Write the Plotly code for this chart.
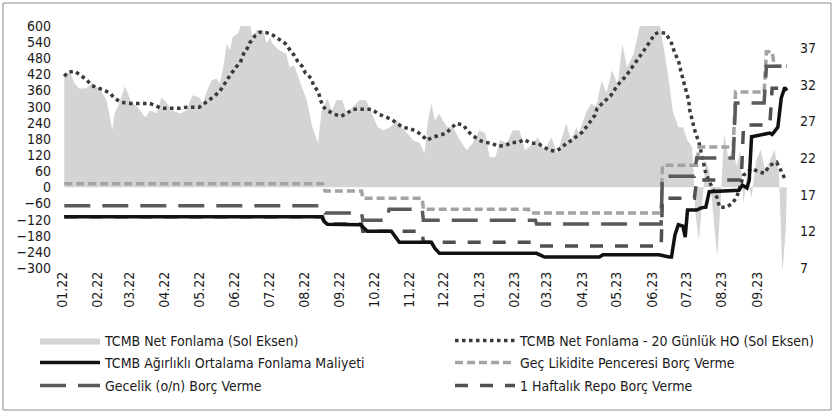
import plotly.graph_objects as go

# ---------------- DATA ----------------
net_dates = ["2022-01-03","2022-01-05","2022-01-09","2022-01-12","2022-01-16","2022-01-22","2022-01-27","2022-01-31",
 "2022-02-03","2022-02-09","2022-02-14","2022-02-16","2022-02-21","2022-02-25","2022-03-02","2022-03-08","2022-03-15",
 "2022-03-19","2022-03-25","2022-03-29","2022-04-03","2022-04-08","2022-04-14","2022-04-20","2022-04-25","2022-05-01",
 "2022-05-04","2022-05-08","2022-05-12","2022-05-16","2022-05-19","2022-05-22","2022-05-25","2022-05-28","2022-05-30",
 "2022-06-04","2022-06-07","2022-06-11","2022-06-14","2022-06-17","2022-06-20","2022-06-26","2022-06-29","2022-07-02",
 "2022-07-04","2022-07-10","2022-07-16","2022-07-19","2022-07-23","2022-07-28","2022-08-03","2022-08-08","2022-08-13",
 "2022-08-16","2022-08-21","2022-08-25","2022-08-29","2022-09-03","2022-09-07","2022-09-12","2022-09-18","2022-09-24",
 "2022-09-29","2022-10-04","2022-10-09","2022-10-15","2022-10-21","2022-10-25","2022-10-30","2022-11-04","2022-11-10",
 "2022-11-14","2022-11-17","2022-11-20","2022-11-23","2022-11-27","2022-11-30","2022-12-04","2022-12-09","2022-12-15",
 "2022-12-21","2022-12-26","2023-01-01","2023-01-06","2023-01-10","2023-01-15","2023-01-19","2023-01-25","2023-01-30",
 "2023-02-05","2023-02-10","2023-02-17","2023-02-21","2023-02-27","2023-03-05","2023-03-10","2023-03-18","2023-03-22",
 "2023-03-27","2023-03-29","2023-04-05","2023-04-09","2023-04-13","2023-04-18","2023-04-22","2023-04-27","2023-05-02",
 "2023-05-06","2023-05-10","2023-05-16","2023-05-21","2023-05-25","2023-06-07","2023-06-09","2023-06-12","2023-06-16",
 "2023-06-19","2023-06-24","2023-06-28","2023-07-02","2023-07-06","2023-07-09","2023-07-12","2023-07-15","2023-07-18",
 "2023-07-21","2023-07-25","2023-07-28","2023-07-31","2023-08-03","2023-08-07","2023-08-10","2023-08-14","2023-08-17",
 "2023-08-20","2023-08-23","2023-08-27","2023-08-31","2023-09-04","2023-09-08","2023-09-12","2023-09-16","2023-09-20",
 "2023-09-23","2023-09-26","2023-09-27"]
net_vals = [409,428,420,387,368,368,387,372,
 368,324,212,275,324,376,324,298,260,
 286,275,335,312,286,275,286,342,335,
 312,361,398,405,387,446,535,510,558,
 573,610,597,610,558,584,584,535,558,
 535,510,498,446,454,398,324,223,164,
 286,331,286,324,324,275,298,324,324,
 275,223,212,223,249,223,201,175,164,
 126,249,312,249,275,249,223,223,175,
 138,164,212,201,112,112,175,164,212,
 212,138,164,186,138,186,126,238,175,
 223,201,286,312,300,398,350,435,380,
 535,446,498,595,620,620,573,500,387,
 286,223,223,175,150,-100,-197,-50,100,
 60,-120,-260,-50,200,100,150,80,137,
 -60,50,-40,100,140,60,100,140,50,
 -320,-150,20]

ma_dates = ["2022-01-03","2022-01-06","2022-01-12","2022-01-16","2022-01-22","2022-01-27","2022-02-01","2022-02-07",
 "2022-02-12","2022-02-16","2022-02-22","2022-03-02","2022-03-19","2022-03-25","2022-03-29","2022-04-14","2022-04-20",
 "2022-05-01","2022-05-07","2022-05-13","2022-05-19","2022-05-24","2022-05-28","2022-06-02","2022-06-06","2022-06-09",
 "2022-06-12","2022-06-14","2022-06-19","2022-06-23","2022-06-29","2022-07-03","2022-07-09","2022-07-15","2022-07-19",
 "2022-07-23","2022-07-26","2022-07-30","2022-08-02","2022-08-07","2022-08-09","2022-08-13","2022-08-15","2022-08-17",
 "2022-08-21","2022-08-27","2022-09-02","2022-09-07","2022-09-12","2022-09-29","2022-10-05","2022-10-10","2022-10-16",
 "2022-10-21","2022-10-26","2022-11-01","2022-11-07","2022-11-12","2022-11-16","2022-11-21","2022-11-27","2022-12-03",
 "2022-12-08","2022-12-12","2022-12-18","2022-12-22","2022-12-27","2023-01-01","2023-01-06","2023-01-12","2023-01-17",
 "2023-01-24","2023-01-29","2023-02-04","2023-02-09","2023-02-15","2023-02-21","2023-02-26","2023-03-03","2023-03-09",
 "2023-03-15","2023-03-18","2023-03-23","2023-03-26","2023-04-01","2023-04-05","2023-04-08","2023-04-12","2023-04-14",
 "2023-04-17","2023-04-21","2023-04-26","2023-04-30","2023-05-04","2023-05-09","2023-05-13","2023-05-17","2023-05-22",
 "2023-05-27","2023-05-31","2023-06-03","2023-06-07","2023-06-13","2023-06-18","2023-06-21","2023-06-24","2023-06-26",
 "2023-06-29","2023-07-01","2023-07-03","2023-07-04","2023-07-06","2023-07-09","2023-07-12","2023-07-15","2023-07-18",
 "2023-07-23","2023-07-28","2023-07-30","2023-08-05","2023-08-10","2023-08-14","2023-08-20","2023-08-27","2023-09-01",
 "2023-09-07","2023-09-12","2023-09-18","2023-09-22","2023-09-25"]
ma_vals = [413,428,432,420,402,379,372,361,
 350,331,316,312,312,301,294,294,298,
 298,316,335,357,391,417,446,465,498,
 517,536,565,577,575,570,554,536,513,
 491,469,450,424,405,379,357,327,301,
 286,272,264,275,290,290,272,264,253,
 238,223,219,208,193,175,186,193,201,
 223,238,231,208,190,175,167,164,153,
 156,167,167,178,164,164,149,138,134,
 151,164,175,186,205,227,246,268,294,
 305,320,342,368,391,413,439,461,491,
 521,547,569,577,573,536,498,472,435,
 391,353,324,286,249,201,167,115,52,
 4,-41,-74,-74,-60,-37,45,70,60,
 52,82,93,60,33]

wac_dates = ["2022-01-03","2022-08-16","2022-08-18","2022-08-21","2022-09-19","2022-09-22","2022-09-25","2022-10-16",
 "2022-10-19","2022-10-23","2022-11-20","2022-11-23","2022-11-27","2023-02-20","2023-02-27","2023-04-16","2023-04-19",
 "2023-04-26","2023-06-07","2023-06-16","2023-06-18","2023-06-21","2023-06-24","2023-06-28","2023-06-30","2023-07-02",
 "2023-07-10","2023-07-14","2023-07-18","2023-07-21","2023-08-16","2023-08-19","2023-08-23","2023-08-25","2023-08-27",
 "2023-09-12","2023-09-14","2023-09-19","2023-09-22","2023-09-25","2023-09-27"]
wac_vals = [14.0,14.0,13.4,12.95,12.9,12.4,12.0,12.0,
 11.3,10.5,10.5,9.7,9.0,9.0,8.5,8.5,8.8,
 8.8,8.8,8.5,8.5,11.5,12.9,12.7,11.2,14.9,
 14.9,15.2,15.3,17.4,17.6,18.3,17.9,19.0,24.9,
 25.4,25.2,26.2,30.2,31.6,31.2]

llw_dates = ["2022-01-03","2022-08-17","2022-08-19","2022-09-20","2022-09-21","2022-11-12","2022-11-13","2023-02-13",
 "2023-02-14","2023-06-09","2023-06-10","2023-07-10","2023-07-12","2023-08-11","2023-08-13","2023-09-07","2023-09-09",
 "2023-09-14","2023-09-16","2023-09-27"]
llw_vals = [18.5,18.5,17.5,17.5,16.5,16.5,15.0,15.0,
 14.5,14.5,21.0,21.0,23.5,23.5,31.0,31.0,36.5,
 36.5,34.5,34.5]

on_dates = ["2022-01-03","2022-08-17","2022-08-19","2022-09-20","2022-09-21","2022-10-12","2022-10-14","2022-11-12",
 "2022-11-13","2023-02-19","2023-02-20","2023-06-09","2023-06-10","2023-07-08","2023-07-10","2023-08-11","2023-08-13",
 "2023-09-07","2023-09-09","2023-09-16","2023-09-27"]
on_vals = [15.5,15.5,14.5,14.5,13.5,13.5,15.0,15.0,
 13.5,13.5,13.0,13.0,19.5,19.5,22.0,22.0,29.5,
 29.5,34.5,34.5,34.5]

w1_dates = ["2022-01-03","2022-08-17","2022-08-19","2022-09-20","2022-09-21","2022-11-12","2022-11-13","2023-02-19",
 "2023-02-20","2023-06-09","2023-06-10","2023-07-08","2023-07-10","2023-08-18","2023-08-20","2023-09-12","2023-09-14",
 "2023-09-27"]
w1_vals = [14.0,14.0,13.0,13.0,12.0,12.0,10.5,10.5,
 10.0,10.0,16.5,16.5,19.0,19.0,26.5,26.5,31.5,
 31.5]

month_ticks = ["2022-01-01","2022-02-01","2022-03-01","2022-04-01","2022-05-01","2022-06-01","2022-07-01",
 "2022-08-01","2022-09-01","2022-10-01","2022-11-01","2022-12-01","2023-01-01","2023-02-01","2023-03-01",
 "2023-04-01","2023-05-01","2023-06-01","2023-07-01","2023-08-01","2023-09-01"]
month_labels = ["01.22","02.22","03.22","04.22","05.22","06.22","07.22","08.22","09.22","10.22","11.22","12.22",
 "01.23","02.23","03.23","04.23","05.23","06.23","07.23","08.23","09.23"]
left_ticks = list(range(-300, 601, 60))
right_ticks = [7, 12, 17, 22, 27, 32, 37]

names = ["TCMB Net Fonlama (Sol Eksen)",
         "TCMB Net Fonlama - 20 Günlük HO (Sol Eksen)",
         "TCMB Ağırlıklı Ortalama Fonlama Maliyeti",
         "Geç Likidite Penceresi Borç Verme",
         "Gecelik (o/n) Borç Verme",
         "1 Haftalık Repo Borç Verme"]

# ---------------- FIGURE ----------------
FONT = "DejaVu Sans Condensed, DejaVu Sans, sans-serif"
FS = 14
TXT = "#1a1a1a"
W, H = 834, 412
L, R, T, B = 58, 39, 26, 144
pw, ph = W - L - R, H - T - B

def px(x):
    return (x - L) / pw

def py(y):
    return (H - B - y) / ph

fig = go.Figure()

fig.add_trace(go.Scatter(
    x=net_dates, y=net_vals, name=names[0], mode="lines",
    line=dict(width=0, color="#cfcfcf"), fill="tozeroy",
    fillcolor="#d4d4d4", legend="legend"))

fig.add_trace(go.Scatter(
    x=ma_dates, y=ma_vals, name=names[1], mode="lines",
    line=dict(color="#3a3a3a", width=3.5, dash="3.5px,3.5px"), legend="legend4"))

fig.add_trace(go.Scatter(
    x=llw_dates, y=llw_vals, name=names[3], mode="lines", yaxis="y2",
    line=dict(color="#a3a3a3", width=3.5, dash="8px,4px"), legend="legend5"))

fig.add_trace(go.Scatter(
    x=on_dates, y=on_vals, name=names[4], mode="lines", yaxis="y2",
    line=dict(color="#5a5a5a", width=3.5, dash="26px,12px"), legend="legend3"))

fig.add_trace(go.Scatter(
    x=w1_dates, y=w1_vals, name=names[5], mode="lines", yaxis="y2",
    line=dict(color="#505050", width=3.5, dash="13px,12px"), legend="legend6"))

fig.add_trace(go.Scatter(
    x=wac_dates, y=wac_vals, name=names[2], mode="lines", yaxis="y2",
    line=dict(color="#111111", width=3.5), legend="legend2"))

leg_common = dict(orientation="h", xanchor="left", yanchor="middle", bgcolor="rgba(0,0,0,0)",
                  font=dict(family=FONT, size=FS, color=TXT), itemwidth=60)
col1, col2 = px(35), px(450)
rows = [py(341), py(363), py(386)]

fig.update_layout(
    width=W, height=H,
    margin=dict(l=L, r=R, t=T, b=B, autoexpand=False),
    paper_bgcolor="white", plot_bgcolor="white",
    font=dict(family=FONT, size=FS, color=TXT),
    showlegend=True,
    legend=dict(x=col1, y=rows[0], **leg_common),
    legend2=dict(x=col1, y=rows[1], **leg_common),
    legend3=dict(x=col1, y=rows[2], **leg_common),
    legend4=dict(x=col2, y=rows[0], **leg_common),
    legend5=dict(x=col2, y=rows[1], **leg_common),
    legend6=dict(x=col2, y=rows[2], **leg_common),
    xaxis=dict(type="date", range=["2021-12-28 12:00", "2023-10-04"],
               tickvals=month_ticks, ticktext=month_labels, tickangle=-90,
               showgrid=False, zeroline=False, showline=False, ticks="",
               tickfont=dict(family=FONT, size=FS, color=TXT)),
    yaxis=dict(range=[-300, 600], tickvals=left_ticks, showgrid=False, zeroline=False,
               showline=False, ticks="", ticklabelstandoff=6,
               tickfont=dict(family=FONT, size=FS, color=TXT)),
    yaxis2=dict(range=[7, 40], tickvals=right_ticks, overlaying="y", side="right",
                showgrid=False, zeroline=False, showline=False, ticks="", ticklabelstandoff=4,
                tickfont=dict(family=FONT, size=FS, color=TXT)),
    shapes=[dict(type="rect", xref="paper", yref="paper",
                 x0=px(3), x1=px(831), y0=py(410), y1=py(3),
                 line=dict(color="#8c8c8c", width=1), layer="below")],
)

fig.write_html("out.html", config={"displayModeBar": False},
               post_script="document.body.style.margin='0px';document.body.style.overflow='hidden';")
